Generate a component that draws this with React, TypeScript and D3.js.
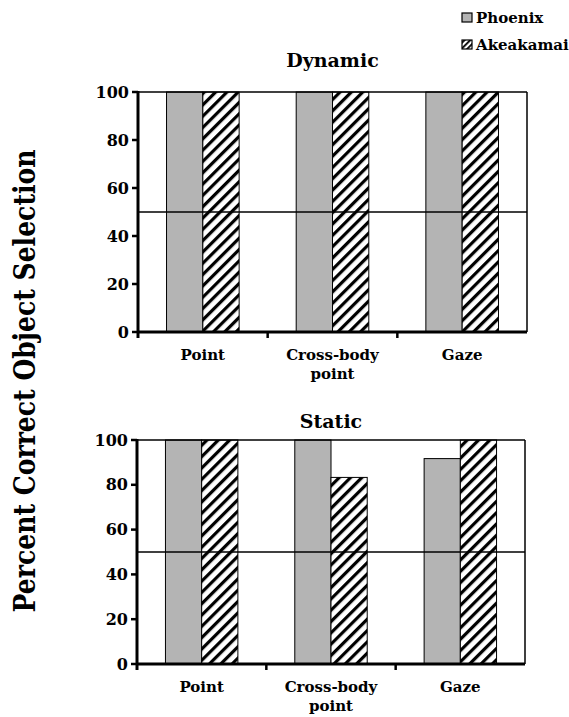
import React from "react";
import * as d3 from "d3";

const categories = ["Point", "Cross-body\npoint", "Gaze"];
const series = ["Phoenix", "Akeakamai"];
const dynamicValues = [
  [100, 100],
  [100, 100],
  [100, 100],
];
const staticValues = [
  [100, 100],
  [100, 83.3],
  [91.7, 100],
];
const yTicks = [0, 20, 40, 60, 80, 100];
const chanceLevel = 50;

const FONT = "DejaVu Serif, serif";
const GRAY = "#b4b4b4";

function Panel({ title, values, top, bottom, left, right, titleY }: any) {
  const x = d3.scaleBand<string>().domain(categories).range([left, right]);
  const y = d3.scaleLinear().domain([0, 100]).range([bottom, top]);
  const bw = x.bandwidth() * 0.28;
  return (
    <g>
      <text x={(left + right) / 2} y={titleY} textAnchor="middle" style={{ fontFamily: FONT, fontWeight: 700, fontSize: 19 }}>
        {title}
      </text>
      {values.map((pair: number[], i: number) => {
        const cx = (x(categories[i]) as number) + x.bandwidth() / 2;
        return pair.map((v, j) => (
          <rect
            key={`${i}-${j}`}
            x={cx - bw + j * bw}
            y={y(v)}
            width={bw}
            height={y(0) - y(v)}
            fill={j === 0 ? GRAY : "url(#hatch)"}
            stroke="#000"
            strokeWidth={1}
          />
        ));
      })}
      <line x1={left} x2={right} y1={y(chanceLevel)} y2={y(chanceLevel)} stroke="#000" strokeWidth={1.5} />
      <line x1={left} x2={right} y1={top} y2={top} stroke="#000" strokeWidth={1.5} />
      <line x1={right} x2={right} y1={top} y2={bottom} stroke="#000" strokeWidth={1.5} />
      <line x1={left} x2={left} y1={top - 1} y2={bottom + 6} stroke="#000" strokeWidth={3} />
      <line x1={left} x2={right} y1={bottom} y2={bottom} stroke="#000" strokeWidth={3} />
      {categories.slice(1).map((c) => (
        <line key={c} x1={x(c) as number} x2={x(c) as number} y1={bottom} y2={bottom + 6} stroke="#000" strokeWidth={2.5} />
      ))}
      {yTicks.map((t) => (
        <g key={t}>
          <line x1={left - 6} x2={left} y1={y(t)} y2={y(t)} stroke="#000" strokeWidth={2.5} />
          <text x={left - 9} y={y(t)} dy="0.35em" textAnchor="end" style={{ fontFamily: FONT, fontWeight: 700, fontSize: 16 }}>
            {t}
          </text>
        </g>
      ))}
      {categories.map((c) => {
        const cx = (x(c) as number) + x.bandwidth() / 2;
        return c.split("\n").map((line, k) => (
          <text key={c + k} x={cx} y={bottom + 28 + k * 19} textAnchor="middle" style={{ fontFamily: FONT, fontWeight: 700, fontSize: 15 }}>
            {line}
          </text>
        ));
      })}
    </g>
  );
}

export default function App() {
  return (
    <svg width={569} height={717} style={{ position: "absolute", left: 0, top: 0, background: "#fff" }}>
      <defs>
        <pattern id="hatch" patternUnits="userSpaceOnUse" width={8} height={8} patternTransform="rotate(45)">
          <rect width={8} height={8} fill="#fff" />
          <rect width={3.2} height={8} fill="#000" />
        </pattern>
        <pattern id="hatchSmall" patternUnits="userSpaceOnUse" width={4} height={4} patternTransform="rotate(45)">
          <rect width={4} height={4} fill="#fff" />
          <rect width={1.8} height={4} fill="#000" />
        </pattern>
      </defs>
      <rect width={569} height={717} fill="#fff" />
      {series.map((s, i) => (
        <g key={s}>
          <rect x={462} y={13 + i * 27} width={10} height={9} fill={i === 0 ? GRAY : "url(#hatchSmall)"} stroke="#000" strokeWidth={1.2} />
          <text x={476} y={23 + i * 27} style={{ fontFamily: FONT, fontWeight: 700, fontSize: 15 }}>
            {s}
          </text>
        </g>
      ))}
      <Panel title="Dynamic" values={dynamicValues} top={92} bottom={332} left={138} right={527} titleY={67} />
      <Panel title="Static" values={staticValues} top={440} bottom={664} left={137} right={525} titleY={428} />
      <text
        transform="translate(35,381) rotate(-90)"
        textAnchor="middle"
        textLength={463}
        lengthAdjust="spacingAndGlyphs"
        style={{ fontFamily: FONT, fontWeight: 700, fontSize: 30 }}
      >
        Percent Correct Object Selection
      </text>
    </svg>
  );
}
